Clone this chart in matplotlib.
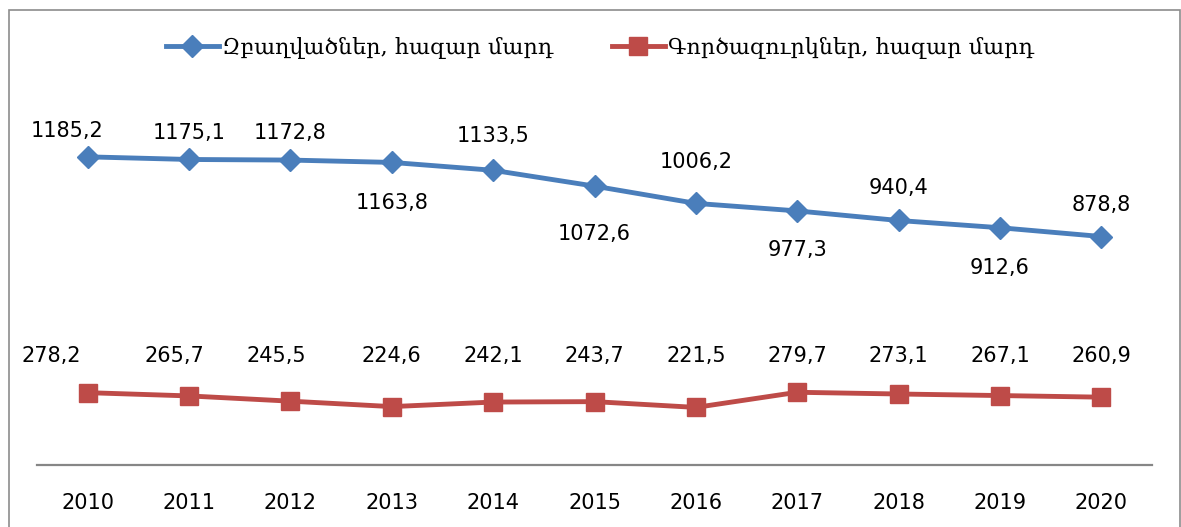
import matplotlib.pyplot as plt
from matplotlib.patches import Rectangle
from matplotlib.lines import Line2D

years = ['2010', '2011', '2012', '2013', '2014', '2015', '2016', '2017', '2018', '2019', '2020']
employed = [1185.2, 1175.1, 1172.8, 1163.8, 1133.5, 1072.6, 1006.2, 977.3, 940.4, 912.6, 878.8]
unemployed = [278.2, 265.7, 245.5, 224.6, 242.1, 243.7, 221.5, 279.7, 273.1, 267.1, 260.9]
employed_name = 'Զբաղվածներ, հազար մարդ'
unemployed_name = 'Գործազուրկներ, հազար մարդ'

blue = '#4a7ebb'
red = '#be4b48'
W, H = 1181, 527

fig = plt.figure(figsize=(W / 100, H / 100), dpi=100)
ax = fig.add_axes([37 / W, 1 - 465 / H, (1152 - 37) / W, (465 - 101) / H])

x = list(range(len(years)))
ax.plot(x, employed, color=blue, lw=3.5, marker='D', ms=11, zorder=3)
ax.plot(x, unemployed, color=red, lw=3.5, marker='s', ms=13, zorder=3)

ax.set_xlim(-0.5, len(years) - 0.5)
ax.set_ylim(0, 1400)
ax.set_yticks([])
ax.set_xticks(x)
ax.set_xticklabels(years, fontsize=15)
ax.tick_params(axis='x', length=0, pad=20)
for s in ['top', 'right', 'left']:
    ax.spines[s].set_visible(False)
ax.spines['bottom'].set_color('#868686')
ax.spines['bottom'].set_linewidth(1.6)

# label offsets in pixels (dx, dy), positive dy = up
emp_off = [(-21, 26), (0, 26), (0, 27), (0, -41), (0, 34), (0, -48),
           (0, 41), (0, -39), (0, 32), (0, -40), (0, 32)]
for i, v in enumerate(employed):
    dx, dy = emp_off[i]
    ax.annotate(f'{v:.1f}'.replace('.', ','), (i, v), xytext=(dx * 0.72, dy * 0.72),
                textcoords='offset points', ha='center', va='center', fontsize=15)

unemp_dx = [-36, -15, -14, 0, 0, 0, 0, 0, 0, 0, 0]
for i, v in enumerate(unemployed):
    ax.annotate(f'{v:.1f}'.replace('.', ','), (i, 0), xycoords=('data', 'axes fraction'),
                xytext=(unemp_dx[i] * 0.72, (465 - 356) * 0.72),
                textcoords='offset points', ha='center', va='center', fontsize=15)

handles = [Line2D([], [], color=blue, lw=3.5, marker='D', ms=11),
           Line2D([], [], color=red, lw=3.5, marker='s', ms=13)]
fig.legend(handles, [employed_name, unemployed_name], loc='center',
           bbox_to_anchor=(600 / W, 1 - 48 / H), ncol=2, frameon=False,
           prop={'family': 'DejaVu Serif', 'size': 16}, handlelength=2.4,
           handletextpad=0.15, columnspacing=2.6)

# chart border
fig.patches.append(Rectangle((8.5 / W, -0.1), (1180 - 8.5) / W, 1.1 - 10 / H,
                             transform=fig.transFigure, fill=False,
                             edgecolor='#8c8c8c', lw=1.2))

fig.savefig('out.png', dpi=100, facecolor='white')
